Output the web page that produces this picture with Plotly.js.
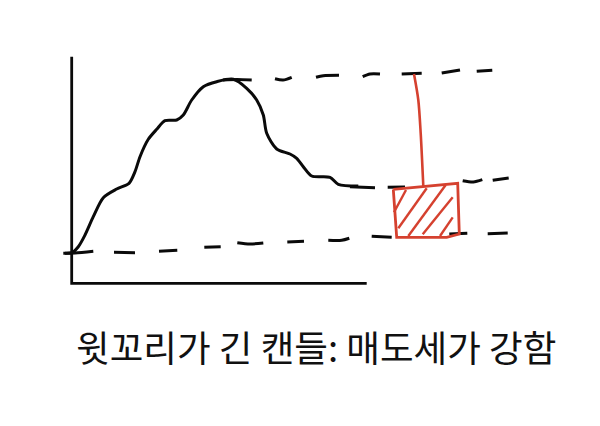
<!DOCTYPE html>
<html><head><meta charset="utf-8">
<script src="https://cdn.plot.ly/plotly-3.0.1.min.js"></script>
<style>html,body{margin:0;padding:0;background:#fff}#c{width:600px;height:426px}</style></head>
<body><div id="c"></div>
<script>
const captionText = "윗꼬리가 긴 캔들: 매도세가 강함";

const axisX = [71.7, 71.7, 366.7];
const axisY = [56.7, 283.3, 283.3];

const priceX = [65,71.7,78.3,85,93.3,103.3,116.7,129,135,140,148.3,156.7,165,176.7,183.3,191.7,203.3,216.7,233.3,246.7,256.7,263.3,266.7,276.7,290,296.7,303.3,311.7,330,338.3,358.3];
const priceY = [253.3,252.7,246.7,235,216.7,197.7,189,183.3,171.7,156.7,139.3,129.3,120.7,120,115,100,86.7,81.7,79.3,88.3,100,115,133.3,149,154,158.3,166.7,176,177.3,184.3,186];

const upperDashX = [223,237,251.7,null,275,283,291.7,null,316,323.3,339,null,362.7,370,380,null,401.7,421.7,null,441.7,460,null,476.7,492.3];
const upperDashY = [80,79.5,80,null,78.7,80,77.3,null,77.3,75.7,75.3,null,76.7,74,74,null,74,73.3,null,73,70,null,71.3,70.3];

const middleDashX = [350,375,null,387.7,405,null,462.7,473.3,482.3,null,492.7,508.7];
const middleDashY = [186.7,187.7,null,187.3,187,null,180.7,182,179.7,null,180.3,178];

const lowerDashX = [63.3,75,93.3,null,114,135,null,159,177.3,null,204.3,220.7,null,237.3,250,263.3,null,287.3,304,null,328.3,341.7,349.3,null,371.7,391.7,null,449.3,467.3,null,487.7,507.7];
const lowerDashY = [253.3,253,251.3,null,252.3,252.7,null,251.3,250.3,null,247.3,246.7,null,242.7,244,243,null,242,241.3,null,240.3,240.3,238.3,null,236.3,237.3,null,234,233.3,null,233.7,233];

const wickX = [414,418.3,420.7,423.3];
const wickY = [74,100,133.3,186];

const bodyX = [393.3,423.3,457.7,459.3,446.7,396.7,393.3];
const bodyY = [189.3,186.7,183.3,234,237.3,237.3,189.3];

const hatchX = [394,406,null,398.3,426.7,null,408.3,445.7,null,422.7,452.7,null,440,452.7];
const hatchY = [212.3,190,null,228.3,188.3,null,236,185,null,234.3,197.3,null,236,217.3];

const BLACK = "#0a0a0a", RED = "#d5412f";
const line = (x,y,color,width,shape) => ({x,y,type:"scatter",mode:"lines",hoverinfo:"skip",showlegend:false,
  connectgaps:false,line:{color,width,shape:shape||"linear",smoothing:0.8}});

const traces = [
  line(axisX,axisY,BLACK,2.8),
  line(priceX,priceY,BLACK,3,"spline"),
  line(upperDashX,upperDashY,BLACK,3,"spline"),
  line(middleDashX,middleDashY,BLACK,3,"spline"),
  line(lowerDashX,lowerDashY,BLACK,3,"spline"),
  line(wickX,wickY,RED,2.6,"spline"),
  line(bodyX,bodyY,RED,2.8),
  line(hatchX,hatchY,RED,2.4)
];

const hidden = {visible:false,fixedrange:true};
Plotly.newPlot("c",traces,{
  width:600,height:426,
  margin:{l:0,r:0,t:0,b:0},
  paper_bgcolor:"#fff",plot_bgcolor:"#fff",showlegend:false,
  xaxis:{...hidden,range:[0,600]},
  yaxis:{...hidden,range:[426,0]},
  annotations:[{text:captionText,x:315.5,y:346,xref:"x",yref:"y",xanchor:"center",yanchor:"middle",showarrow:false,
    font:{family:'"Noto Sans CJK KR","Noto Sans",sans-serif',size:36.6,color:"#111"}}]
},{staticPlot:true,displayModeBar:false});
</script></body></html>
